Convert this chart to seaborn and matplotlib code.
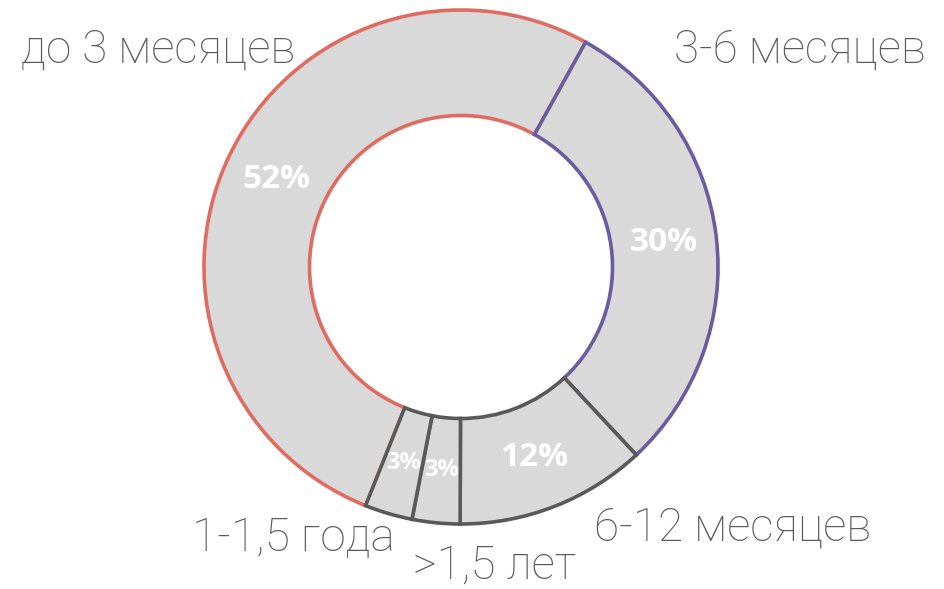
import numpy as np
import matplotlib.pyplot as plt
import seaborn as sns

# data, clockwise from the 3-6 months slice
categories = ["3-6 месяцев", "6-12 месяцев", ">1,5 лет", "1-1,5 года", "до 3 месяцев"]
shares = [30, 12, 3, 3, 52]
pct_labels = ["30%", "12%", "3%", "3%", "52%"]
edge_colors = ["#6a5c9e", "#595959", "#595959", "#595959", "#e06b60"]

sns.set_theme(style="white")
plt.rcParams["font.family"] = ["Roboto", "DejaVu Sans"]

fig = plt.figure(figsize=(9.45, 5.89), dpi=100)
ax = fig.add_axes([0, 0, 1, 1])

cx, cy, r_out, r_in = 461, 322, 257, 151.5

wedges, texts = ax.pie(
    shares,
    center=(cx, cy),
    radius=r_out,
    startangle=61,
    counterclock=False,
    colors=["#d9d9d9"] * len(shares),
    wedgeprops=dict(width=r_out - r_in, linewidth=2.6),
    frame=True,
)
for w, ec in zip(wedges, edge_colors):
    w.set_edgecolor(ec)
# red slice underneath so neighbouring borders show on top
wedges[-1].set_zorder(0.5)

ax.set_xlim(0, 945)
ax.set_ylim(0, 589)
ax.set_aspect("equal")
ax.axis("off")

# percentage labels in the middle of each ring segment
r_mid = (r_out + r_in) / 2
sizes = [24, 24, 17, 17, 24]
ang = 61
for w, lab, fs in zip(shares, pct_labels, sizes):
    mid = np.deg2rad(ang - w * 3.6 / 2)
    ang -= w * 3.6
    ax.text(cx + r_mid * np.cos(mid), cy + r_mid * np.sin(mid), lab,
            ha="center", va="center", color="white", fontsize=fs,
            fontweight="bold", family=["Open Sans", "DejaVu Sans"], zorder=5)

# outside labels
label_pos = {
    "до 3 месяцев": (158, 539),
    "3-6 месяцев": (800, 539),
    "6-12 месяцев": (733, 61),
    "1-1,5 года": (293, 51),
    ">1,5 лет": (495, 23),
}
for name, (x, y) in label_pos.items():
    ax.text(x, y, name, ha="center", va="center", color="#595959",
            fontsize=33, fontweight="light")

fig.savefig("out.png", dpi=100)
